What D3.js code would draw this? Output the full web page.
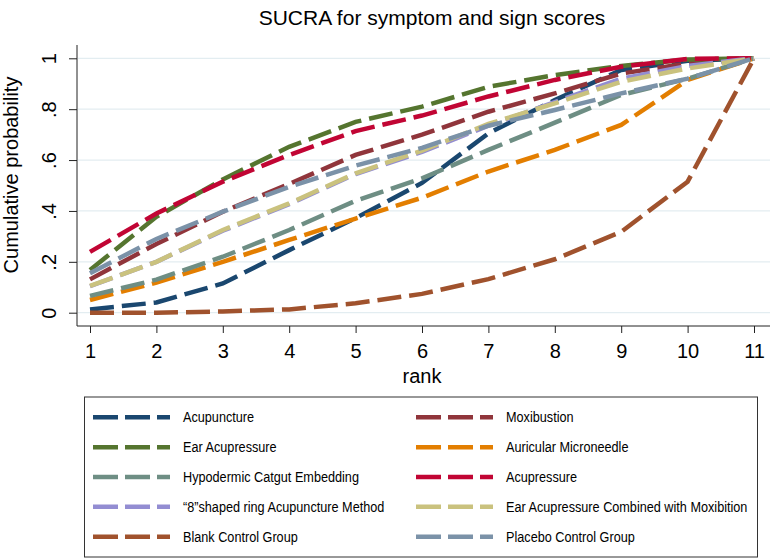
<!DOCTYPE html>
<html>
<head>
<meta charset="utf-8">
<script src="https://cdn.jsdelivr.net/npm/d3@7"></script>
<style>
  body { margin: 0; background: #fff; }
  text { font-family: "Liberation Sans", Arial, Helvetica, sans-serif; fill: #000; }
</style>
</head>
<body>
<div id="chart"></div>
<script>
"use strict"

// ranks on x axis
var ranks = [1, 2, 3, 4, 5, 6, 7, 8, 9, 10, 11];
var yTicks = [0, 0.2, 0.4, 0.6, 0.8, 1];
var yTickLabels = ["0", ".2", ".4", ".6", ".8", "1"];

// cumulative probabilities
var acupuncture   = [0.013, 0.04, 0.115, 0.246, 0.372, 0.51, 0.705, 0.836, 0.954, 0.99, 1];
var moxibustion   = [0.131, 0.27, 0.397, 0.506, 0.62, 0.70, 0.79, 0.862, 0.94, 0.98, 1];
var earAcup       = [0.168, 0.377, 0.524, 0.652, 0.75, 0.81, 0.888, 0.934, 0.97, 0.995, 1];
var auricular     = [0.05, 0.118, 0.20, 0.286, 0.37, 0.452, 0.555, 0.64, 0.738, 0.915, 1];
var hypodermic    = [0.066, 0.13, 0.22, 0.325, 0.44, 0.528, 0.64, 0.747, 0.856, 0.92, 1];
var acupressure   = [0.239, 0.39, 0.515, 0.62, 0.714, 0.775, 0.85, 0.915, 0.967, 0.998, 1];
var eightShaped   = [0.104, 0.20, 0.322, 0.427, 0.545, 0.632, 0.735, 0.828, 0.92, 0.97, 1];
var earCombined   = [0.105, 0.20, 0.325, 0.43, 0.548, 0.637, 0.742, 0.823, 0.908, 0.96, 1];
var blank         = [0, 0, 0.005, 0.013, 0.037, 0.074, 0.132, 0.21, 0.318, 0.515, 1];
var placebo       = [0.155, 0.29, 0.397, 0.495, 0.578, 0.648, 0.735, 0.797, 0.862, 0.92, 1];

var names = ["Acupuncture", "Moxibustion", "Ear Acupressure", "Auricular Microneedle",
  "Hypodermic Catgut Embedding", "Acupressure", "\u201c8\u201dshaped ring Acupuncture Method",
  "Ear Acupressure Combined with Moxibition", "Blank Control Group", "Placebo Control Group"];
var colors = ["#1a476f", "#90353b", "#55752f", "#e37e00", "#6e8e84",
  "#c10534", "#938dd2", "#cac27e", "#a0522d", "#7b92a8"];
var values = [acupuncture, moxibustion, earAcup, auricular, hypodermic,
  acupressure, eightShaped, earCombined, blank, placebo];

var series = names.map((n, i) => ({
  name: n, color: colors[i],
  points: ranks.map((r, j) => ({rank: r, p: values[i][j]}))
}));

var width = 770, height = 559;
var axisX = 77, axisY = 326;

let svg = d3.select("#chart")
  .append("svg")
    .attr("width", width)
    .attr("height", height);

const x = d3.scaleLinear().domain([1, 11]).range([90, 754]);
const y = d3.scaleLinear().domain([0, 1]).range([312.7, 58.3]);

// title
svg.append("text")
  .attr("x", 432).attr("y", 25)
  .attr("text-anchor", "middle")
  .style("font-size", "21px")
  .text("SUCRA for symptom and sign scores");

// gridlines
svg.append("g")
  .selectAll("line")
  .data(yTicks)
  .join("line")
    .attr("x1", axisX + 1).attr("x2", 770)
    .attr("y1", d => y(d)).attr("y2", d => y(d))
    .attr("stroke", "#e3edf1")
    .attr("stroke-width", 1.2);

// y axis
const yAxis = svg.append("g")
  .attr("transform", "translate(" + axisX + ",0)")
  .call(d3.axisLeft(y).tickValues(yTicks).tickSize(8).tickFormat((d, i) => yTickLabels[i]));
yAxis.select(".domain").attr("d", "M0,45V" + axisY).attr("stroke", "#222");
yAxis.selectAll(".tick line").attr("stroke", "#222");
yAxis.selectAll(".tick text")
  .attr("x", null).attr("dy", null)
  .attr("transform", "translate(-21,0) rotate(-90)")
  .attr("text-anchor", "middle")
  .style("font-size", "20px")
  .style("font-family", "Liberation Sans, Arial, sans-serif");

// x axis
const xAxis = svg.append("g")
  .attr("transform", "translate(0," + axisY + ")")
  .call(d3.axisBottom(x).tickValues(ranks).tickSize(7).tickFormat(d3.format("d")));
xAxis.select(".domain").attr("d", "M" + axisX + ",0H770").attr("stroke", "#222");
xAxis.selectAll(".tick line").attr("stroke", "#222");
xAxis.selectAll(".tick text")
  .attr("dy", null).attr("y", 32)
  .style("font-size", "20px")
  .style("font-family", "Liberation Sans, Arial, sans-serif");

// axis titles
svg.append("text")
  .attr("transform", "translate(18,175) rotate(-90)")
  .attr("text-anchor", "middle")
  .style("font-size", "20px")
  .text("Cumulative probability");

svg.append("text")
  .attr("x", 422).attr("y", 383)
  .attr("text-anchor", "middle")
  .style("font-size", "20px")
  .text("rank");

// lines
const line = d3.line().x(d => x(d.rank)).y(d => y(d.p));

svg.append("g")
  .selectAll("path")
  .data(series)
  .join("path")
    .attr("d", d => line(d.points))
    .attr("fill", "none")
    .attr("stroke", d => d.color)
    .attr("stroke-width", 4.5)
    .attr("stroke-dasharray", "24,8");

// legend
const legend = svg.append("g");
legend.append("rect")
  .attr("x", 84.5).attr("y", 397)
  .attr("width", 673).attr("height", 160)
  .attr("fill", "#fff")
  .attr("stroke", "#333")
  .attr("stroke-width", 1);

const items = legend.selectAll(".item")
  .data(series)
  .join("g")
    .attr("class", "item")
    .attr("transform", (d, i) => "translate(" + (i % 2 === 0 ? 93 : 416) + "," + (417.3 + Math.floor(i / 2) * 29.85) + ")");

items.append("line")
  .attr("x1", 0).attr("x2", 77)
  .attr("y1", 0).attr("y2", 0)
  .attr("stroke", d => d.color)
  .attr("stroke-width", 4.5)
  .attr("stroke-dasharray", "25,7");

items.append("text")
  .attr("transform", "translate(90,5) scale(0.905,1)")
  .style("font-size", "14px")
  .text(d => d.name);
</script>
</body>
</html>
